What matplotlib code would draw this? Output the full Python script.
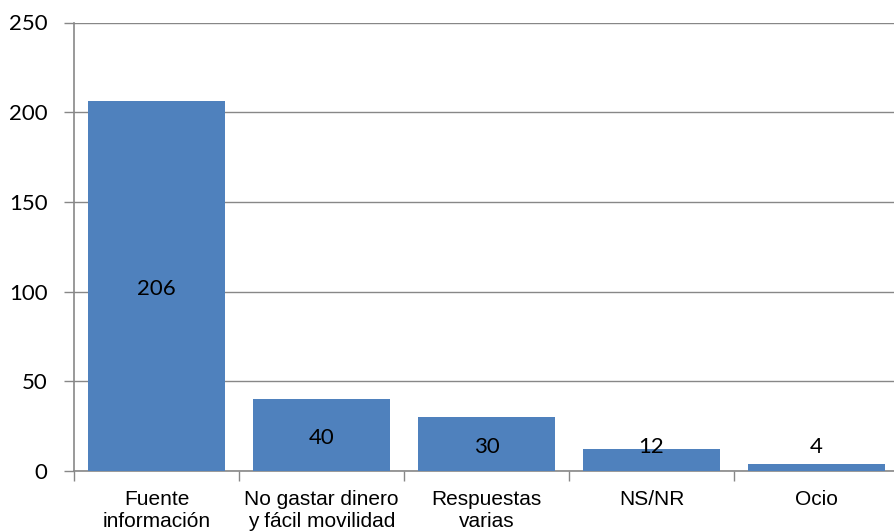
import matplotlib
matplotlib.use("Agg")
import matplotlib.pyplot as plt
import numpy as np

# data
categories = ["Fuente\ninformación", "No gastar dinero\ny fácil movilidad",
              "Respuestas\nvarias", "NS/NR", "Ocio"]
values = [206, 40, 30, 12, 4]

bar_color = "#4F81BD"
grid_color = "#878787"

fig = plt.figure(figsize=(8.94, 5.31), dpi=100)
ax = fig.add_axes([74 / 894, 60 / 531, 825 / 894, 448.5 / 531])

x = np.arange(len(categories))
ax.bar(x, values, width=0.83, color=bar_color, zorder=3)

# value labels inside the bars (small bars get a minimum height)
for xi, v in zip(x, values):
    ax.text(xi, max(v / 2, 15) - 1.5, str(v), ha="center", va="center",
            fontsize=16, family="Lato", color="black", zorder=4)

ax.set_xlim(-0.5, len(categories) - 0.5)
ax.set_ylim(0, 250)
ax.set_yticks(np.arange(0, 251, 50))
ax.tick_params(axis="y", length=7, width=1, color=grid_color, pad=12,
               labelsize=16)
for lab in ax.get_yticklabels():
    lab.set_family("Lato")

# category boundaries get the tick marks, labels sit in the middle
ax.set_xticks(np.arange(-0.5, len(categories), 1.0))
ax.set_xticklabels([])
ax.set_xticks(x, minor=True)
ax.set_xticklabels(categories, minor=True, fontsize=15,
                   family="Liberation Sans", linespacing=1.15)
ax.tick_params(axis="x", which="major", length=7, width=1, color=grid_color)
ax.tick_params(axis="x", which="minor", length=0, pad=14)

ax.yaxis.grid(True, color=grid_color, linewidth=1, zorder=0)
ax.set_axisbelow(True)
for side in ("top", "right"):
    ax.spines[side].set_visible(False)
for side in ("left", "bottom"):
    ax.spines[side].set_color(grid_color)
    ax.spines[side].set_linewidth(1.2)

fig.savefig("out.png", dpi=100)
